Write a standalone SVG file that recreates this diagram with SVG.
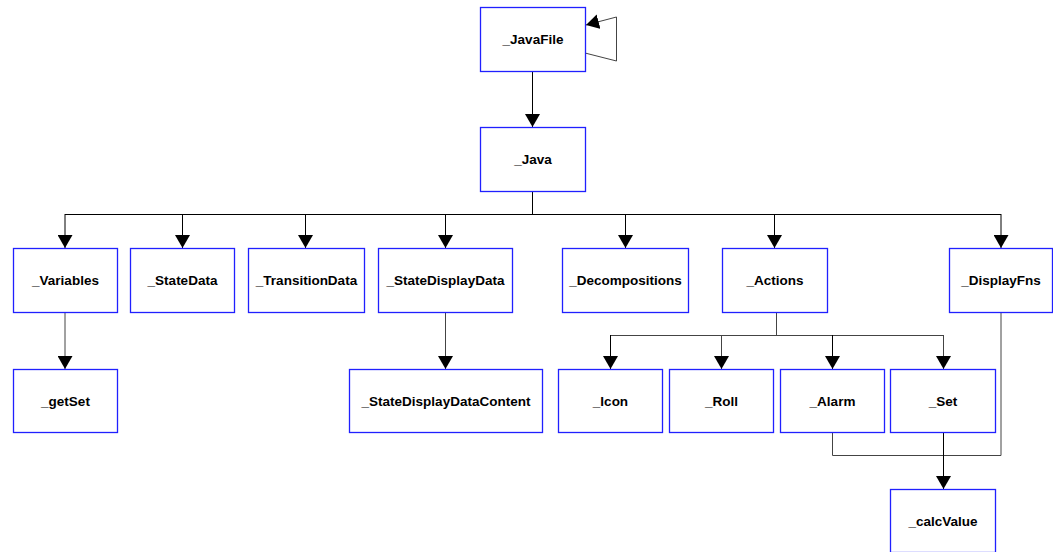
<svg xmlns="http://www.w3.org/2000/svg" width="1053" height="552" viewBox="0 0 1053 552">
<style>
.n rect{fill:#fff;stroke:#2020ff;stroke-width:1.3}
.n text{font-family:"Liberation Sans",Arial,sans-serif;font-weight:bold;font-size:13.5px;text-anchor:middle;dominant-baseline:central;fill:#000}
.c path{fill:none;stroke:#000;stroke-width:1}
.c .a{marker-end:url(#ah)}
.c .t{stroke:#444}
</style>
<defs>
<marker id="ah" viewBox="0 0 13 15" refX="13" refY="7.5" markerWidth="13" markerHeight="15" markerUnits="userSpaceOnUse" orient="auto">
<path d="M0,0 L13,7.5 L0,15 z" fill="#000"/>
</marker>
</defs>
<rect width="1053" height="552" fill="#fff"/>
<g class="c" id="connectors">
<path class="a t" d="M585,53 L616.5,61 L616.5,17 L586,25"/>
<path class="a" d="M532.5,71 L532.5,127"/>
<path d="M532.5,192 L532.5,214.5 M65,214.5 L1001,214.5"/>
<path class="a" d="M65,214 L65,248"/>
<path class="a" d="M182.5,214 L182.5,248"/>
<path class="a" d="M305.5,214 L305.5,248"/>
<path class="a" d="M445.5,214 L445.5,248"/>
<path class="a" d="M625.5,214 L625.5,248"/>
<path class="a" d="M774.5,214 L774.5,248"/>
<path class="a" d="M1001,214 L1001,248"/>
<path class="a t" d="M65,312 L65,369"/>
<path class="a t" d="M445.5,312 L445.5,369"/>
<path class="t" d="M776.5,312 L776.5,335.5 M610.5,335.5 L943.5,335.5"/>
<path class="a" d="M610.5,335 L610.5,369"/>
<path class="a t" d="M721.5,335 L721.5,369"/>
<path class="a" d="M832.5,335 L832.5,369"/>
<path class="a t" d="M943.5,335 L943.5,369"/>
<path class="t" d="M832.5,432 L832.5,455.5 L1001,455.5 L1001,312"/>
<path class="a" d="M943.5,432 L943.5,489"/>
</g>
<g class="n" id="JavaFile"><rect x="480.5" y="7.5" width="105" height="64"/><text x="533" y="39.5">_JavaFile</text></g>
<g class="n" id="Java"><rect x="480.5" y="127.5" width="105" height="64"/><text x="533" y="159.5">_Java</text></g>
<g class="n" id="Variables"><rect x="13.5" y="248.5" width="104" height="64"/><text x="65.5" y="280.5">_Variables</text></g>
<g class="n" id="StateData"><rect x="130.5" y="248.5" width="104" height="64"/><text x="182.5" y="280.5">_StateData</text></g>
<g class="n" id="TransitionData"><rect x="248.5" y="248.5" width="116" height="64"/><text x="306.5" y="280.5">_TransitionData</text></g>
<g class="n" id="StateDisplayData"><rect x="378.5" y="248.5" width="134" height="64"/><text x="445.5" y="280.5">_StateDisplayData</text></g>
<g class="n" id="Decompositions"><rect x="562.5" y="248.5" width="126" height="64"/><text x="625.5" y="280.5">_Decompositions</text></g>
<g class="n" id="Actions"><rect x="722.5" y="248.5" width="105" height="64"/><text x="775" y="280.5">_Actions</text></g>
<g class="n" id="DisplayFns"><rect x="949.5" y="248.5" width="103" height="64"/><text x="1001" y="280.5">_DisplayFns</text></g>
<g class="n" id="getSet"><rect x="13.5" y="369.5" width="104" height="63"/><text x="65.5" y="401">_getSet</text></g>
<g class="n" id="StateDisplayDataContent"><rect x="349.5" y="369.5" width="193" height="63"/><text x="446" y="401">_StateDisplayDataContent</text></g>
<g class="n" id="Icon"><rect x="558.5" y="369.5" width="104" height="63"/><text x="610.5" y="401">_Icon</text></g>
<g class="n" id="Roll"><rect x="669.5" y="369.5" width="104" height="63"/><text x="721.5" y="401">_Roll</text></g>
<g class="n" id="Alarm"><rect x="780.5" y="369.5" width="104" height="63"/><text x="832.5" y="401">_Alarm</text></g>
<g class="n" id="Set"><rect x="890.5" y="369.5" width="105" height="63"/><text x="943" y="401">_Set</text></g>
<g class="n" id="calcValue"><rect x="890.5" y="489.5" width="105" height="63"/><text x="943" y="521">_calcValue</text></g>
</svg>
